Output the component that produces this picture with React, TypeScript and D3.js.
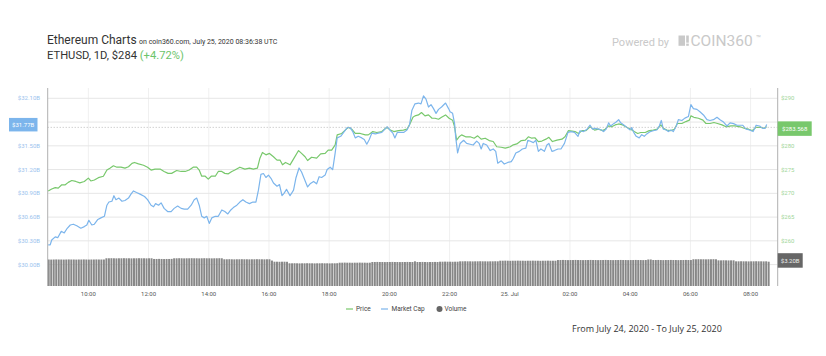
import React from 'react';
import * as d3 from 'd3';

// minutes after 2020-07-24 08:40 UTC
const START = Date.UTC(2020, 6, 24, 8, 40);

const capMinutes = [
  0, 4, 7, 14, 19, 26, 32, 37, 44, 50, 57, 65, 72, 77, 81, 87, 92, 99, 105, 112,
  117, 121, 127, 131, 135, 141, 147, 153, 160, 165, 170, 176, 183, 192, 198, 205, 210, 214, 220, 225,
  231, 238, 245, 251, 258, 265, 271, 278, 285, 291, 296, 301, 306, 311, 316, 321, 326, 333, 339, 346,
  352, 358, 364, 369, 376, 382, 388, 394, 401, 408, 414, 419, 424, 429, 434, 439, 444, 449, 456, 461,
  466, 470, 475, 482, 489, 494, 500, 505, 510, 517, 522, 529, 535, 540, 545, 552, 556, 562, 567, 572,
  576, 583, 590, 596, 602, 607, 612, 618, 625, 630, 635, 640, 645, 652, 658, 665, 671, 676, 681, 687,
  691, 696, 703, 709, 715, 720, 725, 731, 738, 743, 748, 753, 758, 763, 768, 773, 778, 784, 792, 798,
  801, 806, 810, 812, 816, 821, 828, 834, 841, 847, 854, 859, 863, 867, 874, 881, 887, 892, 896, 903,
  909, 916, 923, 927, 932, 939, 945, 952, 956, 960, 967, 972, 977, 982, 989, 994, 998, 1004, 1009, 1016,
  1022, 1029, 1036, 1042, 1049, 1056, 1060, 1067, 1074, 1080, 1085, 1090, 1097, 1103, 1107, 1112, 1117, 1121, 1127, 1132,
  1137, 1141, 1148, 1154, 1160, 1163, 1167, 1172, 1178, 1183, 1188, 1193, 1200, 1206, 1213, 1218, 1222, 1226, 1232, 1236,
  1241, 1246, 1252, 1256, 1263, 1269, 1276, 1281, 1286, 1293, 1299, 1306, 1313, 1319, 1326, 1333, 1339, 1346, 1353, 1359,
  1366, 1373, 1379, 1384, 1391, 1398, 1405, 1411, 1418, 1424, 1429, 1432,
];
const capValues = [
  30.25, 30.25, 30.31, 30.35, 30.34, 30.42, 30.40, 30.45, 30.50, 30.51, 30.49, 30.46, 30.48, 30.50, 30.56, 30.50, 30.51, 30.57, 30.59, 30.61,
  30.75, 30.79, 30.80, 30.87, 30.82, 30.84, 30.80, 30.81, 30.84, 30.89, 30.93, 30.91, 30.89, 30.86, 30.82, 30.75, 30.73, 30.77, 30.75, 30.78,
  30.71, 30.67, 30.67, 30.71, 30.74, 30.71, 30.70, 30.70, 30.75, 30.82, 30.84, 30.75, 30.61, 30.59, 30.61, 30.52, 30.59, 30.61, 30.61, 30.69,
  30.67, 30.64, 30.69, 30.72, 30.75, 30.79, 30.82, 30.79, 30.77, 30.79, 30.79, 30.94, 31.14, 31.15, 31.10, 31.13, 31.09, 31.03, 30.99, 31.01,
  30.87, 30.90, 30.95, 30.87, 30.94, 31.10, 31.22, 31.17, 31.09, 30.98, 31.02, 31.05, 31.02, 31.11, 31.10, 31.13, 31.20, 31.23, 31.20, 31.41,
  31.60, 31.62, 31.68, 31.73, 31.73, 31.68, 31.60, 31.62, 31.60, 31.58, 31.52, 31.58, 31.66, 31.65, 31.66, 31.67, 31.71, 31.74, 31.70, 31.66,
  31.60, 31.67, 31.67, 31.67, 31.70, 31.76, 31.95, 32.03, 32.04, 32.03, 32.13, 32.09, 31.99, 32.02, 31.97, 31.91, 31.96, 31.99, 32.04, 31.97,
  31.93, 31.91, 31.78, 31.62, 31.41, 31.53, 31.57, 31.53, 31.52, 31.51, 31.56, 31.53, 31.46, 31.53, 31.51, 31.44, 31.46, 31.43, 31.28, 31.31,
  31.27, 31.29, 31.30, 31.34, 31.41, 31.43, 31.46, 31.47, 31.57, 31.56, 31.54, 31.57, 31.43, 31.46, 31.43, 31.51, 31.53, 31.43, 31.44, 31.46,
  31.46, 31.53, 31.67, 31.68, 31.67, 31.62, 31.69, 31.68, 31.71, 31.76, 31.71, 31.72, 31.71, 31.70, 31.68, 31.71, 31.79, 31.75, 31.78, 31.80,
  31.83, 31.79, 31.76, 31.73, 31.70, 31.73, 31.67, 31.62, 31.60, 31.64, 31.62, 31.65, 31.68, 31.69, 31.70, 31.75, 31.82, 31.71, 31.70, 31.68,
  31.70, 31.68, 31.75, 31.83, 31.82, 31.85, 31.87, 32.02, 31.97, 31.96, 31.93, 31.89, 31.83, 31.82, 31.83, 31.86, 31.83, 31.80, 31.75, 31.79,
  31.78, 31.76, 31.76, 31.76, 31.71, 31.70, 31.68, 31.76, 31.75, 31.72, 31.72, 31.77,
];

const priceMinutes = [
  0, 7, 14, 20, 27, 34, 40, 47, 55, 63, 72, 80, 85, 92, 100, 110, 117, 123, 130, 137,
  145, 153, 160, 167, 172, 180, 190, 198, 205, 213, 223, 231, 239, 246, 256, 265, 273, 281, 289, 296,
  301, 306, 313, 319, 325, 333, 339, 346, 352, 359, 366, 372, 382, 392, 401, 409, 417, 422, 427, 434,
  441, 449, 456, 462, 467, 473, 482, 490, 499, 505, 512, 517, 525, 535, 543, 552, 558, 565, 572, 576,
  585, 592, 598, 605, 612, 622, 632, 638, 647, 655, 665, 675, 682, 689, 698, 708, 715, 720, 727, 731,
  738, 744, 751, 758, 765, 771, 778, 784, 792, 799, 806, 810, 814, 819, 824, 832, 841, 849, 856, 863,
  871, 879, 887, 894, 903, 911, 921, 927, 934, 943, 951, 957, 964, 970, 977, 984, 992, 998, 1005, 1014,
  1024, 1030, 1037, 1044, 1050, 1057, 1064, 1072, 1080, 1089, 1097, 1105, 1110, 1117, 1123, 1130, 1137, 1145, 1153, 1161,
  1168, 1175, 1181, 1190, 1198, 1206, 1214, 1221, 1226, 1233, 1241, 1248, 1254, 1263, 1271, 1278, 1281, 1287, 1296, 1305,
  1311, 1319, 1327, 1334, 1343, 1351, 1361, 1369, 1379, 1387, 1396, 1403, 1411, 1419, 1427, 1432,
];
const priceValues = [
  270.5, 270.9, 271.2, 271.1, 271.8, 271.8, 272.3, 272.7, 272.5, 272.2, 272.5, 273.2, 272.6, 272.8, 273.3, 273.6, 274.9, 275.3, 275.8, 275.5,
  275.5, 275.3, 275.6, 276.3, 276.5, 276.2, 275.9, 275.5, 274.9, 275.1, 275.1, 274.6, 274.2, 274.2, 274.8, 274.6, 274.6, 274.9, 275.5, 275.5,
  274.9, 273.6, 273.6, 273.0, 273.6, 273.6, 274.6, 274.6, 274.2, 274.1, 274.6, 274.9, 275.5, 275.1, 275.3, 275.1, 275.3, 277.4, 278.6, 278.1,
  278.4, 277.7, 277.0, 277.0, 276.0, 276.5, 276.0, 277.4, 279.0, 278.4, 277.7, 276.9, 277.6, 277.4, 278.3, 278.4, 279.1, 279.1, 280.2, 282.3,
  282.6, 283.3, 283.9, 283.5, 282.6, 282.6, 282.3, 282.3, 283.0, 282.8, 283.0, 283.9, 283.3, 283.0, 283.2, 283.3, 283.5, 284.4, 286.0, 286.3,
  286.5, 287.0, 286.3, 286.5, 285.8, 285.8, 285.6, 286.0, 286.5, 285.8, 285.4, 284.0, 281.2, 281.9, 282.3, 281.9, 281.9, 281.6, 282.1, 281.4,
  281.6, 281.1, 280.9, 279.8, 279.7, 279.5, 279.8, 280.2, 280.4, 281.1, 281.2, 281.9, 281.6, 281.7, 280.9, 281.0, 281.4, 281.8, 280.9, 281.2,
  281.4, 281.9, 283.2, 283.1, 283.0, 282.6, 283.2, 283.2, 284.0, 283.3, 283.5, 283.2, 283.5, 284.2, 284.0, 284.4, 284.6, 284.4, 283.9, 283.5,
  283.0, 282.6, 282.8, 282.8, 283.2, 283.3, 283.5, 284.4, 283.7, 283.3, 283.2, 283.5, 284.7, 284.7, 285.1, 285.4, 286.3, 286.0, 285.8, 285.4,
  284.7, 284.7, 284.9, 284.7, 284.4, 284.0, 284.2, 284.2, 284.0, 283.7, 283.5, 283.2, 283.9, 283.9, 283.7, 284.0,
];

// 24h volume in $B, one bar per 5 minutes from 08:40
const volumeValues = [
  3.49, 3.48, 3.49, 3.50, 3.49, 3.49, 3.48, 3.49, 3.50, 3.49, 3.49, 3.48,
  3.49, 3.49, 3.50, 3.49, 3.48, 3.49, 3.49, 3.50, 3.49, 3.49, 3.49, 3.65,
  3.65, 3.66, 3.65, 3.64, 3.65, 3.65, 3.66, 3.65, 3.65, 3.64, 3.65, 3.65,
  3.66, 3.65, 3.65, 3.64, 3.65, 3.65, 3.56, 3.56, 3.57, 3.56, 3.55, 3.56,
  3.56, 3.57, 3.65, 3.65, 3.66, 3.65, 3.64, 3.65, 3.65, 3.66, 3.65, 3.65,
  3.64, 3.65, 3.66, 3.65, 3.65, 3.64, 3.65, 3.65, 3.66, 3.65, 3.52, 3.52,
  3.53, 3.52, 3.51, 3.52, 3.52, 3.53, 3.52, 3.52, 3.51, 3.52, 3.52, 3.53,
  3.52, 3.52, 3.51, 3.52, 3.52, 3.35, 3.20, 3.20, 3.19, 3.20, 3.20, 3.19,
  2.99, 2.99, 3.00, 2.99, 2.98, 2.99, 2.99, 3.00, 2.99, 2.99, 2.98, 2.99,
  2.99, 3.00, 2.99, 2.99, 2.98, 2.99, 2.99, 3.00, 3.07, 3.07, 3.08, 3.07,
  3.07, 3.06, 3.07, 3.07, 3.08, 3.07, 3.07, 3.06, 3.07, 3.16, 3.16, 3.17,
  3.16, 3.16, 3.15, 3.16, 3.16, 3.17, 3.16, 3.16, 3.15, 3.16, 3.16, 3.17,
  3.16, 3.16, 3.25, 3.16, 3.16, 3.17, 3.16, 3.15, 3.16, 3.16, 3.17, 3.16,
  3.20, 3.20, 3.21, 3.20, 3.20, 3.19, 3.20, 3.20, 3.25, 3.25, 3.26, 3.25,
  3.25, 3.24, 3.25, 3.25, 3.26, 3.25, 3.25, 3.24, 3.25, 3.25, 3.26, 3.25,
  3.33, 3.33, 3.34, 3.33, 3.32, 3.33, 3.33, 3.34, 3.33, 3.33, 3.32, 3.33,
  3.33, 3.34, 3.33, 3.33, 3.32, 3.33, 3.33, 3.34, 3.33, 3.33, 3.33, 3.42,
  3.42, 3.43, 3.42, 3.41, 3.42, 3.42, 3.43, 3.42, 3.42, 3.41, 3.42, 3.42,
  3.43, 3.42, 3.42, 3.41, 3.42, 3.42, 3.43, 3.42, 3.42, 3.41, 3.42, 3.42,
  3.43, 3.42, 3.42, 3.41, 3.42, 3.42, 3.43, 3.42, 3.42, 3.41, 3.42, 3.49,
  3.49, 3.42, 3.42, 3.43, 3.42, 3.41, 3.42, 3.42, 3.43, 3.42, 3.42, 3.41,
  3.42, 3.42, 3.43, 3.42, 3.42, 3.52, 3.52, 3.53, 3.52, 3.52, 3.51, 3.52,
  3.52, 3.53, 3.52, 3.38, 3.38, 3.39, 3.38, 3.37, 3.38, 3.38, 3.25, 3.25,
  3.26, 3.25, 3.25, 3.24, 3.25, 3.25, 3.26, 3.25, 3.25, 3.24, 3.25, 3.20,
];

// gridline ticks; the labels hidden under the current-value boxes are not drawn
const capTicks = [30.0, 30.3, 30.6, 30.9, 31.2, 31.5, 31.8, 32.1];
const capLabelTicks = [30.0, 30.3, 30.6, 30.9, 31.2, 31.5, 32.1];
const priceLabelTicks = [260, 265, 270, 275, 280, 290];
const xTickHours = [10, 12, 14, 16, 18, 20, 22, 24, 26, 28, 30, 32]; // hours after 2020-07-24 00:00 UTC

const lastCapLabel = '$31.77B';
const lastPrice = 283.568;
const lastPriceLabel = '$283.568';
const lastVolume = 3.2;
const lastVolumeLabel = '$3.20B';

const BLUE = '#7cb5ec';
const GREEN = '#78c86c';
const SMALL_FONT = 'Roboto, sans-serif';

export default function App() {
  const W = 826, H = 356;
  const plotLeft = 47.7, plotRight = 777.7, plotTop = 88, plotBottom = 286;
  const toDate = (m: number) => new Date(START + m * 60000);

  const x = d3.scaleUtc()
    .domain([toDate(-1), toDate(1454)])
    .range([plotLeft, plotRight]);
  const yL = d3.scaleLinear().domain([30.0, 32.1]).range([264.6, 98.3]);
  const yR = d3.scaleLinear().domain([255, 290]).range([264.6, 98.3]);
  const yV = d3.scaleLinear().domain([0, lastVolume]).range([plotBottom, 261.7]);

  const capPath = d3.line<number>()
    .x((_, i) => x(toDate(capMinutes[i])))
    .y((v) => yL(v))(capValues) || '';
  const pricePath = d3.line<number>()
    .x((_, i) => x(toDate(priceMinutes[i])))
    .y((v) => yR(v))(priceValues) || '';

  const barStep = x(toDate(5)) - x(toDate(0));
  const barW = barStep * 0.78;

  const xTicks = xTickHours.map((h) => new Date(Date.UTC(2020, 6, 24) + h * 3600000));
  const fmtTick = (d: Date) => (d.getUTCHours() === 0 ? d.getUTCDate() + '. Jul' : d3.utcFormat('%H:%M')(d));

  const yPriceLast = yR(lastPrice);
  const yCapLast = yL(capValues[capValues.length - 1]);
  const yVolLast = yV(lastVolume);

  return (
    <svg width={W} height={H} style={{ position: 'absolute', left: 0, top: 0, background: '#fff' }}>
      {/* header */}
      <text x={47} y={44.3} fontFamily="Roboto, sans-serif" fontSize={12} fill="#333">
        Ethereum Charts
        <tspan fontSize={7} dx={2.5}>on coin360.com, July 25, 2020 08:36:38 UTC</tspan>
      </text>
      <text x={47} y={59.3} fontFamily="Roboto, sans-serif" fontSize={11.2} fill="#333">
        ETHUSD, 1D, $284 <tspan fill="#6cc46a">(+4.72%)</tspan>
      </text>
      <text x={612} y={46} fontFamily="Roboto, sans-serif" fontSize={11} fill="#c9c9c9">Powered by</text>
      <rect x={678.5} y={35.5} width={6.5} height={10.3} fill="#c9c9c9" />
      <rect x={686.2} y={35.5} width={2.6} height={7.2} fill="#c9c9c9" />
      <rect x={686.2} y={43.6} width={2.6} height={2.2} fill="#c9c9c9" />
      <text x={690.5} y={45.8} fontFamily="Roboto, sans-serif" fontSize={15.5} fill="#c9c9c9">COIN360</text>
      <text x={756} y={41} fontFamily="Roboto, sans-serif" fontSize={8} fill="#c9c9c9">™</text>

      {/* vertical grid */}
      {xTicks.map((d, i) => (
        <line key={'vg' + i} x1={x(d)} x2={x(d)} y1={plotTop} y2={plotBottom} stroke="#f0f0f0" strokeWidth={1} />
      ))}
      {/* horizontal grid */}
      {capTicks.map((v, i) => (
        <line key={'hg' + i} x1={plotLeft} x2={plotRight} y1={yL(v)} y2={yL(v)} stroke="#e6e6e6" strokeWidth={1} />
      ))}

      {/* volume bars */}
      {volumeValues.map((v, i) => (
        <rect key={'vb' + i} x={x(toDate(i * 5)) - barW / 2 + 0.5} y={yV(v)} width={barW} height={plotBottom - yV(v)} fill="#878787" />
      ))}

      {/* lines */}
      <path d={pricePath} fill="none" stroke={GREEN} strokeWidth={1.2} strokeLinejoin="round" />
      <path d={capPath} fill="none" stroke={BLUE} strokeWidth={1.2} strokeLinejoin="round" />

      {/* current price dotted line */}
      <line x1={plotLeft} x2={plotRight} y1={yPriceLast - 1.5} y2={yPriceLast - 1.5} stroke="#aaa" strokeWidth={0.8} strokeDasharray="1,2" />

      {/* axis lines */}
      <line x1={plotLeft} x2={plotLeft} y1={plotTop} y2={plotBottom} stroke="#b0b0b0" strokeWidth={1} />
      <line x1={plotRight} x2={plotRight} y1={plotTop} y2={plotBottom} stroke="#b0b0b0" strokeWidth={1} />

      {/* left axis labels */}
      {capLabelTicks.map((v, i) => (
        <text key={'ll' + i} x={40} y={yL(v) + 2} textAnchor="end" fontFamily={SMALL_FONT} fontSize={6} fill="#9cc3ee">
          {'$' + v.toFixed(2) + 'B'}
        </text>
      ))}
      {/* right axis labels */}
      {priceLabelTicks.map((v, i) => (
        <text key={'rl' + i} x={781} y={yR(v) + 2} fontFamily={SMALL_FONT} fontSize={6} fill="#9fd69a">
          {'$' + v}
        </text>
      ))}

      {/* current value boxes */}
      <rect x={9} y={yCapLast - 6.5} width={28.5} height={13.5} fill={BLUE} />
      <text x={23.2} y={yCapLast + 2.2} textAnchor="middle" fontFamily={SMALL_FONT} fontSize={6} fill="#fff">{lastCapLabel}</text>
      <rect x={plotRight} y={yPriceLast - 7.5} width={34} height={14.5} fill={GREEN} />
      <text x={plotRight + 17} y={yPriceLast + 2} textAnchor="middle" fontFamily={SMALL_FONT} fontSize={6} fill="#fff">{lastPriceLabel}</text>
      <rect x={plotRight} y={yVolLast - 8.5} width={25} height={14.5} fill="#666" />
      <text x={plotRight + 12.5} y={yVolLast + 1} textAnchor="middle" fontFamily={SMALL_FONT} fontSize={6} fill="#eee">{lastVolumeLabel}</text>

      {/* x axis labels */}
      {xTicks.map((d, i) => (
        <text key={'xl' + i} x={x(d)} y={295.5} textAnchor="middle" fontFamily={SMALL_FONT} fontSize={6} fill="#555">
          {fmtTick(d)}
        </text>
      ))}

      {/* legend */}
      <line x1={346} x2={353} y1={309} y2={309} stroke={GREEN} strokeWidth={1.2} />
      <text x={356} y={311.2} fontFamily={SMALL_FONT} fontSize={6.5} fill="#444">Price</text>
      <line x1={381} x2={388} y1={309} y2={309} stroke={BLUE} strokeWidth={1.2} />
      <text x={391.5} y={311.2} fontFamily={SMALL_FONT} fontSize={6.5} fill="#444">Market Cap</text>
      <circle cx={439.5} cy={309} r={3} fill="#666" />
      <text x={444.5} y={311.2} fontFamily={SMALL_FONT} fontSize={6.5} fill="#444">Volume</text>

      {/* footer */}
      <text x={572} y={332} fontFamily="'Open Sans', sans-serif" fontSize={9} fill="#333">From July 24, 2020 - To July 25, 2020</text>
    </svg>
  );
}
